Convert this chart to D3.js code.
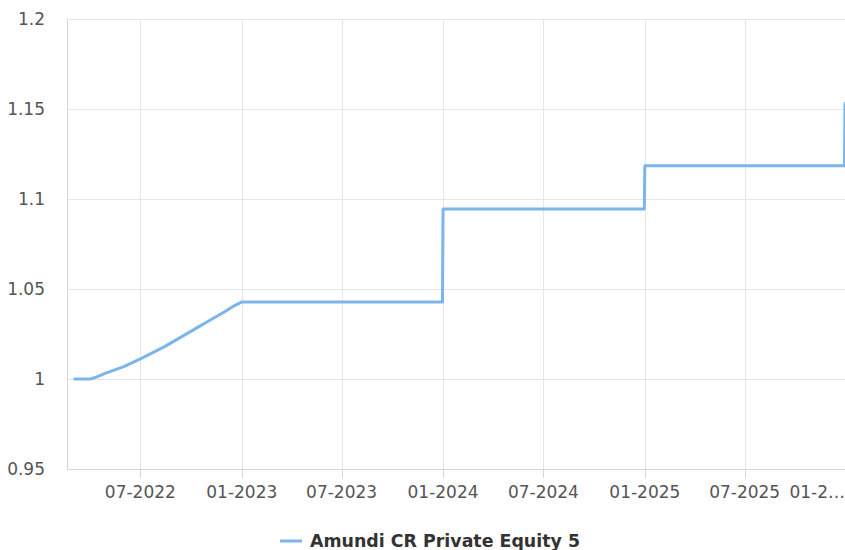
<!DOCTYPE html>
<html><head><meta charset="utf-8">
<script src="https://cdn.jsdelivr.net/npm/d3@7"></script>
<style>
html,body{margin:0;padding:0;background:#fff;}
svg{display:block;font-family:"DejaVu Sans",sans-serif;}
</style></head>
<body><svg id="c" width="845" height="550"></svg>
<script>
const seriesName = "Amundi CR Private Equity 5";
const dates = ["2022-03-04","2022-03-20","2022-04-01","2022-04-10","2022-04-28","2022-06-01","2022-07-03","2022-08-14","2022-09-15","2022-10-13","2022-11-01","2022-12-01","2022-12-19","2023-01-01","2023-12-31","2024-01-01","2024-12-31","2025-01-01","2025-12-29","2025-12-30"];
const values = [1.000,1.000,1.000,1.0008,1.0031,1.0069,1.0115,1.018,1.0237,1.0287,1.0321,1.0374,1.0408,1.0428,1.0428,1.0945,1.0945,1.1185,1.1185,1.153];
const yTicks = [0.95,1,1.05,1.1,1.15,1.2];
const xTickDates = ["2022-07-01","2023-01-01","2023-07-01","2024-01-01","2024-07-01","2025-01-01","2025-07-01","2026-01-01"];
const xTickLabels = ["07-2022","01-2023","07-2023","01-2024","07-2024","01-2025","07-2025","01-2…"];

const parse = d3.utcParse("%Y-%m-%d");
const W = 845, H = 550;
const mL = 67, mR = 845, mT = 19, mB = 469;
const svg = d3.select("#c");

const x = d3.scaleUtc().domain([parse("2022-02-18"), parse("2025-12-30")]).range([mL, mR]);
const y = d3.scaleLinear().domain([0.95, 1.2]).range([mB, mT]);

// horizontal grid
svg.append("g").selectAll("line").data(yTicks).join("line")
  .attr("x1", mL).attr("x2", mR)
  .attr("y1", d => Math.round(y(d)) + 0.5).attr("y2", d => Math.round(y(d)) + 0.5)
  .attr("stroke", "#e6e6e6").attr("stroke-width", 1);

const xt = xTickDates.map(parse);
const inView = xt.filter(d => x(d) <= mR);
// vertical grid
svg.append("g").selectAll("line").data(inView).join("line")
  .attr("x1", d => Math.round(x(d)) + 0.5).attr("x2", d => Math.round(x(d)) + 0.5)
  .attr("y1", mT).attr("y2", mB)
  .attr("stroke", "#e6e6e6").attr("stroke-width", 1);

// axis lines
svg.append("line").attr("x1", mL + 0.5).attr("x2", mL + 0.5).attr("y1", mT).attr("y2", mB)
  .attr("stroke", "#ccd6eb");
svg.append("line").attr("x1", mL).attr("x2", mR).attr("y1", mB + 0.5).attr("y2", mB + 0.5)
  .attr("stroke", "#ccd6eb");
// x tick marks
svg.append("g").selectAll("line").data(inView).join("line")
  .attr("x1", d => Math.round(x(d)) + 0.5).attr("x2", d => Math.round(x(d)) + 0.5)
  .attr("y1", mB).attr("y2", mB + 9)
  .attr("stroke", "#ccd6eb");

// y labels
svg.append("g").selectAll("text").data(yTicks).join("text")
  .attr("x", 45).attr("y", d => y(d) + 6)
  .attr("text-anchor", "end").attr("font-size", 17).attr("fill", "#555")
  .text(d => d3.format("")(d));

// x labels
svg.append("g").selectAll("text").data(xt).join("text")
  .attr("x", d => x(d) > mR - 30 ? mR : x(d))
  .attr("y", 498)
  .attr("text-anchor", d => x(d) > mR - 30 ? "end" : "middle")
  .attr("font-size", 17).attr("fill", "#555")
  .text((d, i) => xTickLabels[i]);

// line
const data = dates.map((d, i) => ({date: parse(d), value: values[i]}));
svg.append("defs").append("clipPath").attr("id", "clip").append("rect")
  .attr("x", mL).attr("y", 0).attr("width", mR - mL).attr("height", H);
svg.append("path").datum(data)
  .attr("clip-path", "url(#clip)")
  .attr("fill", "none").attr("stroke", "#7cb5ec").attr("stroke-width", 3)
  .attr("stroke-linejoin", "round").attr("stroke-linecap", "round")
  .attr("d", d3.line().x(d => x(d.date)).y(d => y(d.value)));

// legend
const lg = svg.append("g");
lg.append("line").attr("x1", 280).attr("x2", 302).attr("y1", 541).attr("y2", 541)
  .attr("stroke", "#7cb5ec").attr("stroke-width", 3);
lg.append("text").attr("x", 310).attr("y", 547).attr("font-size", 17.4).attr("font-weight", "bold")
  .attr("fill", "#333").text(seriesName);
</script></body></html>
